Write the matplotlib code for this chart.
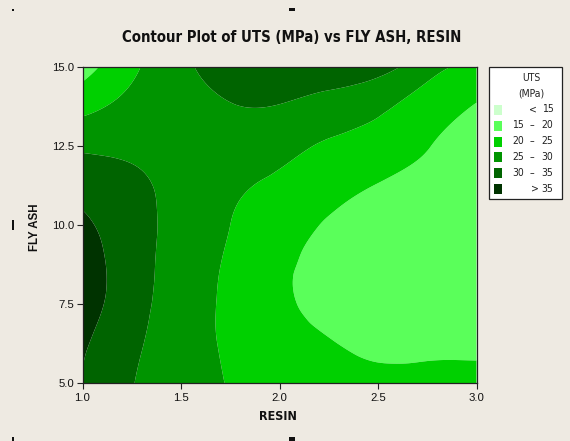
import numpy as np
import matplotlib
matplotlib.use('Agg')
import matplotlib.pyplot as plt
import matplotlib.tri as mtri
from matplotlib.patches import Rectangle

# Data (UTS in MPa)
resin = [1.0, 1.25, 1.5, 1.75, 2.0, 2.25, 2.5, 2.75, 3.0]
fly_ash = [5.0, 6.25, 7.5, 8.75, 10.0, 11.25, 12.5, 13.75, 15.0]
uts = [
    [34.9, 30.2, 27.5, 24.7, 23.0, 22.0, 21.5, 21.6, 21.6],
    [35.7, 31.0, 27.3, 24.2, 21.8, 20.3, 18.8, 18.8, 18.9],
    [37.5, 32.0, 27.5, 24.0, 20.8, 18.9, 17.5, 17.0, 17.2],
    [37.5, 32.3, 27.8, 24.3, 20.8, 18.9, 17.3, 16.5, 16.5],
    [36.0, 32.0, 28.3, 25.0, 22.0, 19.6, 17.8, 16.8, 16.6],
    [33.0, 31.0, 28.5, 26.0, 24.0, 22.0, 19.8, 18.3, 17.8],
    [29.2, 29.0, 28.5, 28.0, 26.5, 24.5, 23.0, 20.2, 19.0],
    [23.5, 26.5, 28.5, 29.8, 29.8, 28.0, 26.0, 22.5, 19.8],
    [18.0, 24.0, 29.0, 32.0, 33.5, 33.5, 32.0, 27.0, 23.5],
]
levels = [15, 20, 25, 30, 35]
colors = ['#ccffcc', '#5aff5a', '#00d000', '#009400', '#006400', '#003300']

BG = '#eeeae2'
W, H = 570, 441

fig = plt.figure(figsize=(W / 100, H / 100), dpi=100, facecolor=BG)

# smooth surface via matplotlib's tri refiner (grid scaled so cells are square)
RR, FF = np.meshgrid(resin, fly_ash)
Z = np.array(uts)
tri = mtri.Triangulation(RR.ravel(), FF.ravel() / 5.0)
interp = mtri.CubicTriInterpolator(tri, Z.ravel(), kind='min_E')
refiner = mtri.UniformTriRefiner(tri)
tri_f, z_f = refiner.refine_field(Z.ravel(), triinterpolator=interp, subdiv=4)
tri_f = mtri.Triangulation(tri_f.x, tri_f.y * 5.0, tri_f.triangles)

ax = fig.add_axes([82.5 / W, (H - 383) / H, 394 / W, 316 / H])
bounds = [-100] + levels + [100]
ax.tricontourf(tri_f, z_f, levels=bounds, colors=colors, antialiased=True)

ax.set_xlim(1.0, 3.0)
ax.set_ylim(5.0, 15.0)
ax.set_xticks([1.0, 1.5, 2.0, 2.5, 3.0])
ax.set_yticks([5.0, 7.5, 10.0, 12.5, 15.0])
ax.set_xticklabels(['1.0', '1.5', '2.0', '2.5', '3.0'])
ax.set_yticklabels(['5.0', '7.5', '10.0', '12.5', '15.0'])
ax.tick_params(direction='out', length=4, width=0.8, color='#222222',
               labelsize=8.2, pad=2, labelcolor='#111111')
ax.tick_params(axis='x', pad=3.5)
for lab in ax.get_xticklabels() + ax.get_yticklabels():
    lab.set_family('Liberation Sans')
for sp in ax.spines.values():
    sp.set_linewidth(0.9)
    sp.set_color('#222222')

fig.text(292 / W, 1 - 38 / H, 'Contour Plot of UTS (MPa) vs FLY ASH, RESIN',
         ha='center', va='center', fontsize=10.7, fontweight='bold',
         fontstretch='condensed', family='DejaVu Sans', color='#111111')
fig.text(278 / W, 1 - 417 / H, 'RESIN', ha='center', va='center',
         fontsize=9, fontweight='bold', fontstretch='condensed',
         family='DejaVu Sans', color='#111111')
fig.text(34.5 / W, 1 - 227 / H, 'FLY ASH', ha='center', va='center',
         rotation=90, fontsize=8.3, fontweight='bold',
         family=['Liberation Sans', 'DejaVu Sans'], color='#111111')

# legend box (Minitab style)
lax = fig.add_axes([0, 0, 1, 1], facecolor='none')
lax.set_xlim(0, W)
lax.set_ylim(H, 0)
lax.axis('off')
lax.add_patch(Rectangle((488.5, 67), 73, 132, facecolor='white',
                        edgecolor='#222222', linewidth=0.9))
lfont = dict(fontsize=7.5, family='DejaVu Sans', fontstretch='condensed',
             color='#222222', va='center')
lax.text(531.5, 78, 'UTS', ha='center', **lfont)
lax.text(531.5, 94, '(MPa)', ha='center', **lfont)
row_y = [109.5, 125.5, 141.5, 157, 173, 188.5]
for i, (y, c) in enumerate(zip(row_y, colors)):
    lax.add_patch(Rectangle((493.5, y - 5), 8, 10, facecolor=c, edgecolor='none'))
    if i == 0:
        lax.text(533, y, '<', ha='center', **lfont)
        lax.text(553.5, y, str(levels[0]), ha='right', **lfont)
    elif i == len(colors) - 1:
        lax.text(535, y, '>', ha='center', **lfont)
        lax.text(553.5, y, str(levels[-1]), ha='right', **lfont)
    else:
        lax.text(512, y, str(levels[i - 1]), ha='left', **lfont)
        lax.text(532, y, '–', ha='center', **lfont)
        lax.text(553.5, y, str(levels[i]), ha='right', **lfont)

# crop marks from the original screenshot
for (x0, y0, w, h) in [(289, 8, 6, 3), (12, 220, 2, 10), (289, 437, 6, 4),
                       (12, 9, 2, 2), (12, 437, 2, 4)]:
    lax.add_patch(Rectangle((x0, y0), w, h, facecolor='#111111', edgecolor='none'))

fig.savefig('out.png', dpi=100, facecolor=BG)
